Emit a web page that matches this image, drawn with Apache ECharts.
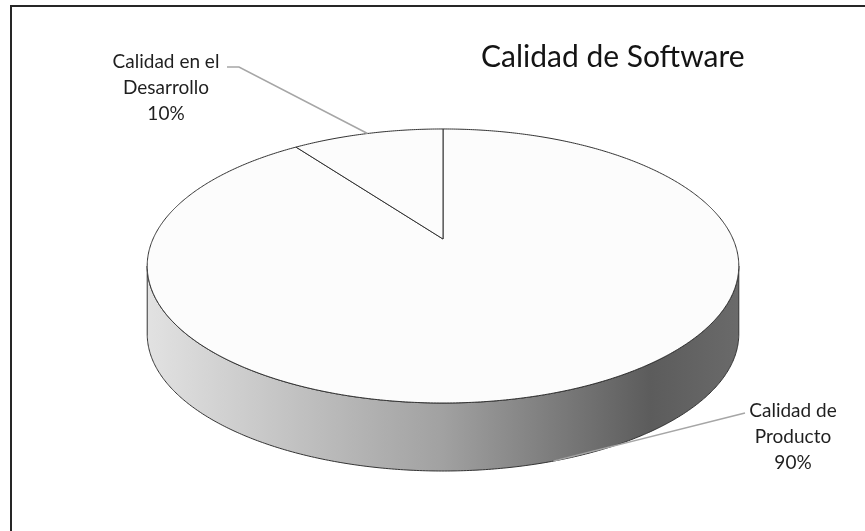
<!DOCTYPE html>
<html>
<head>
<meta charset="utf-8">
<title>Calidad de Software</title>
<script src="https://cdn.jsdelivr.net/npm/echarts@6/dist/echarts.min.js"></script>
<style>
  html, body { margin: 0; padding: 0; background: #ffffff; }
  #chart { width: 865px; height: 531px; }
</style>
</head>
<body>
<div id="chart"></div>
<script>
// Slice data, in drawing order (clockwise from 12 o'clock)
const categories = ['Calidad de Producto', 'Calidad en el Desarrollo'];
const values = [90, 10];
// How each category name is wrapped in its label
const labelNames = ['Calidad de\nProducto', 'Calidad en el\nDesarrollo'];
const chartTitle = 'Calidad de Software';

// Layout of the tilted pie (pixels)
const PIE = {
  cx: 443,       // screen x of the pie centre
  cy: 239,       // screen y of the pie centre (top face)
  rx: 290,       // horizontal radius
  ry: 131.7,     // vertical radius before perspective
  persp: 0.197,  // perspective strength (far edge smaller)
  depth: 68      // thickness of the side wall
};
// Label block centres and where the leader line meets the text
const LABEL_LAYOUT = [
  { center: [793, 437], lineEnd: [745, 413], elbow: [737, 415] },
  { center: [166, 88],  lineEnd: [227, 67],  elbow: [239, 67] }
];
const FONT = 'Lato, "Open Sans", sans-serif';

const total = values.reduce((a, b) => a + b, 0);

// Project a point on the rim (angle clockwise from the top, radians)
function rim(theta, drop) {
  const X = Math.sin(theta);
  const Z = Math.cos(theta);
  const w = 1 / (1 + PIE.persp * Z);
  return [PIE.cx + PIE.rx * X * w, PIE.cy - PIE.ry * Z * w + (drop || 0)];
}
function arc(a0, a1, drop) {
  const pts = [];
  const n = Math.max(2, Math.ceil(Math.abs(a1 - a0) / (Math.PI / 360)));
  for (let i = 0; i <= n; i++) pts.push(rim(a0 + (a1 - a0) * i / n, drop));
  return pts;
}

// Side wall is visible between the two silhouette angles on the near side
const sideFrom = Math.acos(-PIE.persp);
const sideTo = 2 * Math.PI - sideFrom;

const sideGradient = new echarts.graphic.LinearGradient(0, 0, 1, 0, [
  { offset: 0, color: '#e2e2e2' },
  { offset: 0.5, color: '#a1a1a1' },
  { offset: 0.85, color: '#5c5c5c' },
  { offset: 1, color: '#6a6a6a' }
]);

// cumulative start/end angles for each slice
const sliceData = [];
let acc = 0;
values.forEach(function (v, i) {
  const a0 = acc / total * 2 * Math.PI;
  acc += v;
  const a1 = acc / total * 2 * Math.PI;
  sliceData.push([v, a0, a1, i]);
});

function renderSlice(params, api) {
  const v = api.value(0);
  const a0 = api.value(1);
  const a1 = api.value(2);
  const i = params.dataIndex;
  const children = [];

  // side wall
  const s = Math.max(a0, sideFrom);
  const e = Math.min(a1, sideTo);
  if (e > s) {
    const top = arc(s, e, 0);
    const bottom = arc(e, s, PIE.depth);
    children.push({
      type: 'polygon',
      z2: 1,
      shape: { points: top.concat(bottom) },
      style: { fill: sideGradient, stroke: '#333333', lineWidth: 1 }
    });
  }

  // top face
  children.push({
    type: 'polygon',
    z2: 2,
    shape: { points: [[PIE.cx, PIE.cy]].concat(arc(a0, a1, 0)) },
    style: { fill: '#fcfcfc', stroke: '#333333', lineWidth: 1 }
  });

  // leader line from the rim at the slice's mid angle
  const mid = (a0 + a1) / 2;
  const onFront = mid > sideFrom && mid < sideTo;
  const anchor = rim(mid, onFront ? PIE.depth : 0);
  const lay = LABEL_LAYOUT[i];
  children.push({
    type: 'polyline',
    z2: 3,
    shape: { points: [anchor, lay.elbow, lay.lineEnd] },
    style: { stroke: '#a6a6a6', lineWidth: 1.5, fill: null }
  });

  // label: name + percentage
  const pct = Math.round(v / total * 100) + '%';
  children.push({
    type: 'text',
    z2: 4,
    style: {
      text: labelNames[i] + '\n' + pct,
      x: lay.center[0],
      y: lay.center[1],
      align: 'center',
      verticalAlign: 'middle',
      fontFamily: FONT,
      fontSize: 19,
      lineHeight: 26,
      fill: '#1f1f1f'
    }
  });

  return { type: 'group', children: children };
}

const chart = echarts.init(document.getElementById('chart'), null, { renderer: 'canvas' });
chart.setOption({
  backgroundColor: '#ffffff',
  animation: false,
  title: {
    text: chartTitle,
    left: 476,
    top: 37,
    textStyle: { fontFamily: FONT, fontSize: 30, fontWeight: 'normal', color: '#141414' }
  },
  graphic: [{
    type: 'rect',
    shape: { x: 11, y: 6, width: 1000, height: 1000 },
    style: { fill: null, stroke: '#262626', lineWidth: 2 },
    silent: true
  }],
  series: [{
    type: 'custom',
    coordinateSystem: 'none',
    name: chartTitle,
    data: sliceData.map(function (d, i) { return { name: categories[i], value: d }; }),
    renderItem: renderSlice
  }]
});
</script>
</body>
</html>
